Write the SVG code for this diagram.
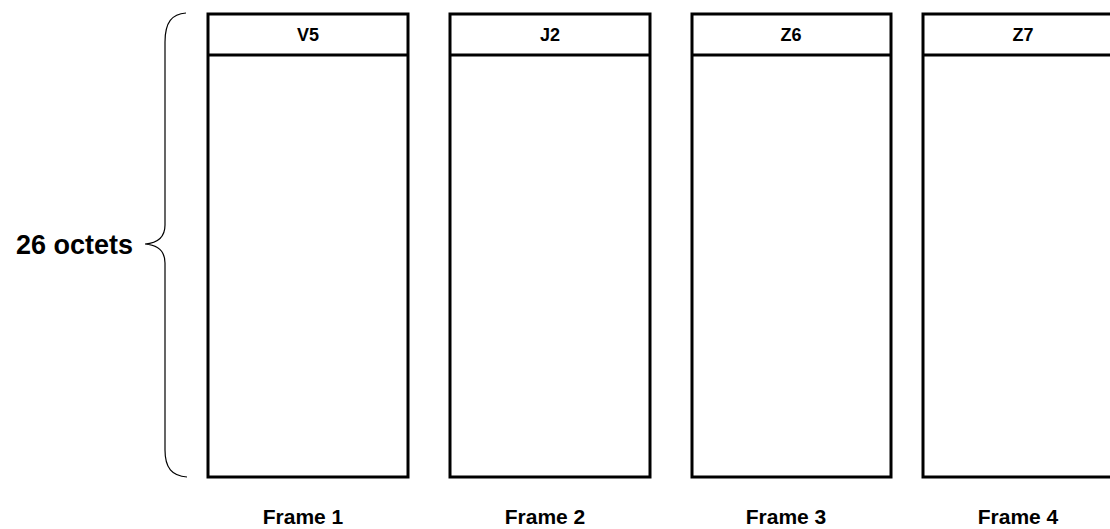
<svg xmlns="http://www.w3.org/2000/svg" width="1110" height="529" viewBox="0 0 1110 529">
<style>
.box{fill:#fff;stroke:#000;stroke-width:3}
.div{stroke:#000;stroke-width:3}
.hdr{font-family:"Liberation Sans",Arial,sans-serif;font-weight:bold;font-size:18px;text-anchor:middle}
.lbl{font-family:"Liberation Sans",Arial,sans-serif;font-weight:bold;font-size:21px;text-anchor:middle}
.side{font-family:"Liberation Sans",Arial,sans-serif;font-weight:bold;font-size:27px;text-anchor:end}
.brace{fill:none;stroke:#000;stroke-width:1.2}
</style>
<rect width="1110" height="529" fill="#fff"/>
<g id="connectors">
<path class="brace" d="M186,13 C172,14 165,22 165,42 L165,225 C165,237 158,243 145,244 C158,245 165,251 165,263 L165,450 C165,468 172,476 187,477"/>
</g>
<g id="size-label"><text class="side" x="133" y="254">26 octets</text></g>
<g id="frame1">
<rect class="box" x="208" y="14" width="200" height="463"/>
<line class="div" x1="208" y1="55" x2="408" y2="55"/>
<text class="hdr" x="308" y="41">V5</text>
<text class="lbl" x="303" y="524">Frame 1</text>
</g>
<g id="frame2">
<rect class="box" x="450" y="14" width="200" height="463"/>
<line class="div" x1="450" y1="55" x2="650" y2="55"/>
<text class="hdr" x="550" y="41">J2</text>
<text class="lbl" x="545" y="524">Frame 2</text>
</g>
<g id="frame3">
<rect class="box" x="692" y="14" width="199" height="463"/>
<line class="div" x1="692" y1="55" x2="891" y2="55"/>
<text class="hdr" x="791" y="41">Z6</text>
<text class="lbl" x="786" y="524">Frame 3</text>
</g>
<g id="frame4">
<rect class="box" x="923" y="14" width="200" height="463"/>
<line class="div" x1="923" y1="55" x2="1123" y2="55"/>
<text class="hdr" x="1023" y="41">Z7</text>
<text class="lbl" x="1018" y="524">Frame 4</text>
</g>
</svg>
